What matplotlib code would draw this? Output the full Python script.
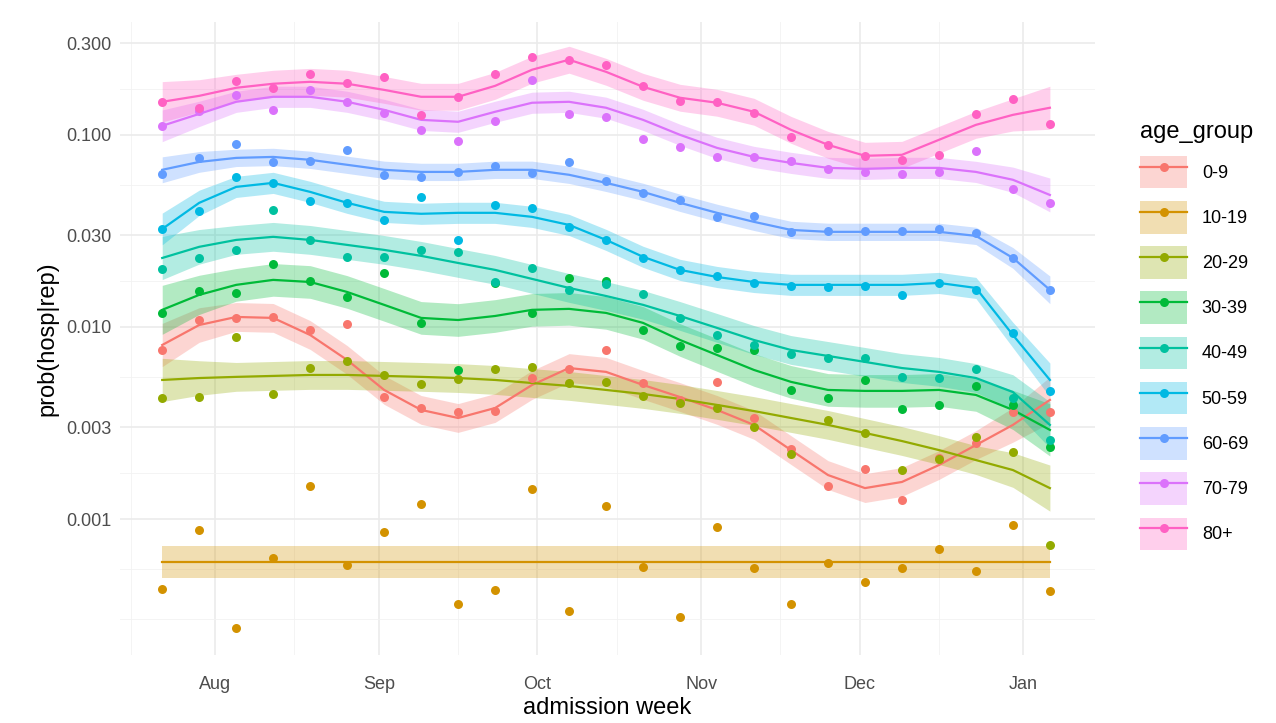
import numpy as np
import pandas as pd
from matplotlib import pyplot as plt
from matplotlib import dates as mdates
from matplotlib.patches import Patch
from matplotlib.lines import Line2D

plt.rcParams['font.family'] = ['Liberation Sans', 'DejaVu Sans']

# weekly admission dates
weeks = pd.date_range("2020-07-22", periods=25, freq="7D")

groups = ["0-9", "10-19", "20-29", "30-39", "40-49", "50-59", "60-69", "70-79", "80+"]
colors = ["#F8766D", "#D39200", "#93AA00", "#00BA38", "#00C19F",
          "#00B9E3", "#619CFF", "#DB72FB", "#FF61C3"]

# observed log10 probabilities
obs = {
    "80+": [-0.828, -0.859, -0.719, -0.755, -0.682, -0.729, -0.698, -0.896, -0.802, -0.682, -0.594, -0.609, -0.635,
            -0.745, -0.823, -0.828, -0.885, -1.010, -1.052, -1.109, -1.130, -1.104, -0.891, -0.813, -0.943],
    "70-79": [-0.953, -0.875, -0.792, -0.870, -0.766, -0.828, -0.885, -0.974, -1.031, -0.927, -0.714, -0.891, -0.906,
              -1.021, -1.063, -1.115, -1.115, -1.135, -1.177, -1.193, -1.203, -1.193, -1.083, -1.281, -1.354],
    "60-69": [-1.203, -1.120, -1.047, -1.141, -1.135, -1.078, -1.208, -1.219, -1.193, -1.161, -1.198, -1.141, -1.240,
              -1.302, -1.339, -1.427, -1.422, -1.505, -1.500, -1.500, -1.500, -1.490, -1.510, -1.641, -1.807],
    "50-59": [-1.490, -1.396, -1.219, -1.250, -1.344, -1.354, -1.443, -1.323, -1.547, -1.365, -1.380, -1.479, -1.547,
              -1.641, -1.703, -1.734, -1.771, -1.786, -1.792, -1.786, -1.833, -1.771, -1.807, -2.031, -2.333],
    "40-49": [-1.698, -1.641, -1.599, -1.391, -1.547, -1.635, -1.635, -1.599, -1.609, -1.766, -1.693, -1.807, -1.776,
              -1.828, -1.953, -2.042, -2.094, -2.141, -2.161, -2.161, -2.260, -2.266, -2.219, -2.370, -2.589],
    "30-39": [-1.927, -1.813, -1.823, -1.672, -1.760, -1.844, -1.719, -1.979, -2.224, -1.771, -1.927, -1.745, -1.760,
              -2.016, -2.099, -2.109, -2.120, -2.328, -2.370, -2.276, -2.427, -2.406, -2.307, -2.406, -2.625],
    "20-29": [-2.370, -2.365, -2.052, -2.349, -2.214, -2.177, -2.250, -2.297, -2.271, -2.219, -2.208, -2.292, -2.286,
              -2.359, -2.396, -2.422, -2.521, -2.661, -2.484, -2.552, -2.745, -2.688, -2.573, -2.651, -3.135],
    "0-9": [-2.120, -1.964, -1.953, -1.948, -2.016, -1.984, -2.365, -2.422, -2.443, -2.438, -2.266, -2.219, -2.120,
            -2.292, -2.380, -2.286, -2.474, -2.635, -2.828, -2.740, -2.901, -2.682, -2.604, -2.443, -2.443],
    "10-19": [-3.365, -3.057, -3.568, -3.203, -2.828, -3.240, -3.068, -2.922, -3.443, -3.370, -2.844, -3.479, -2.932,
              -3.250, -3.510, -3.042, -3.255, -3.443, -3.229, -3.328, -3.255, -3.156, -3.271, -3.031, -3.375],
}

# smoothed fits (log10)
fit = {
    "80+": [-0.828, -0.797, -0.755, -0.734, -0.724, -0.734, -0.766, -0.802, -0.802, -0.745, -0.661, -0.609, -0.672,
            -0.750, -0.807, -0.833, -0.880, -0.974, -1.052, -1.109, -1.104, -1.026, -0.948, -0.896, -0.859],
    "70-79": [-0.953, -0.891, -0.828, -0.802, -0.802, -0.828, -0.870, -0.922, -0.932, -0.880, -0.833, -0.828, -0.859,
              -0.922, -1.0, -1.068, -1.115, -1.146, -1.172, -1.177, -1.172, -1.172, -1.193, -1.234, -1.313],
    "60-69": [-1.182, -1.141, -1.120, -1.115, -1.130, -1.156, -1.182, -1.193, -1.193, -1.182, -1.182, -1.208, -1.250,
              -1.297, -1.354, -1.406, -1.453, -1.495, -1.505, -1.505, -1.505, -1.505, -1.526, -1.641, -1.807],
    "50-59": [-1.490, -1.354, -1.271, -1.250, -1.297, -1.354, -1.401, -1.411, -1.406, -1.406, -1.427, -1.469, -1.547,
              -1.635, -1.703, -1.740, -1.766, -1.781, -1.781, -1.781, -1.781, -1.771, -1.797, -2.042, -2.276],
    "40-49": [-1.641, -1.583, -1.547, -1.531, -1.547, -1.573, -1.599, -1.630, -1.667, -1.703, -1.750, -1.797, -1.839,
              -1.885, -1.943, -2.005, -2.068, -2.120, -2.151, -2.182, -2.214, -2.234, -2.266, -2.339, -2.510],
    "30-39": [-1.911, -1.833, -1.781, -1.755, -1.766, -1.818, -1.885, -1.953, -1.964, -1.943, -1.911, -1.906, -1.927,
              -1.979, -2.068, -2.146, -2.224, -2.286, -2.328, -2.333, -2.333, -2.328, -2.354, -2.432, -2.536],
    "20-29": [-2.276, -2.266, -2.260, -2.255, -2.250, -2.250, -2.255, -2.260, -2.266, -2.276, -2.292, -2.307, -2.328,
              -2.349, -2.375, -2.406, -2.438, -2.474, -2.510, -2.552, -2.594, -2.641, -2.693, -2.745, -2.839],
    "0-9": [-2.094, -1.990, -1.948, -1.953, -2.042, -2.172, -2.328, -2.432, -2.474, -2.422, -2.302, -2.214, -2.234,
            -2.302, -2.365, -2.432, -2.510, -2.641, -2.771, -2.839, -2.807, -2.719, -2.615, -2.510, -2.380],
    "10-19": [-3.224] * 25,
}

# ribbon half-width (log10)
halfwidth = {"80+": 0.07, "70-79": 0.055, "60-69": 0.045, "50-59": 0.055, "40-49": 0.075,
             "30-39": 0.085, "20-29": 0.075, "0-9": 0.075, "10-19": 0.082}
end_widen = np.array([1.5, 1.2] + [1.0] * 21 + [1.2, 1.6])

fig = plt.figure(figsize=(12.76, 7.23), dpi=100)
ax = fig.add_axes([0.094, 0.094, 0.764, 0.876])

xs = mdates.date2num(weeks)
for g, c in zip(groups, colors):
    f = np.array(fit[g])
    hw = halfwidth[g] * (end_widen if g != "10-19" else 1.0)
    ax.fill_between(xs, 10 ** (f - hw), 10 ** (f + hw), color=c, alpha=0.3, lw=0)
    ax.plot(xs, 10 ** f, color=c, lw=1.6)
    ax.scatter(xs, 10 ** np.array(obs[g]), color=c, s=42, zorder=3, lw=0)

ax.set_yscale("log")
ax.set_ylim(10 ** -3.708, 10 ** -0.411)
ax.set_xlim(mdates.date2num(pd.Timestamp("2020-07-14")), mdates.date2num(pd.Timestamp("2021-01-14 12:00")))

yt = [0.001, 0.003, 0.01, 0.03, 0.1, 0.3]
ax.set_yticks(yt)
ax.set_yticklabels(["0.001", "0.003", "0.010", "0.030", "0.100", "0.300"])
minor_y = [10 ** ((np.log10(a) + np.log10(b)) / 2) for a, b in zip(yt[:-1], yt[1:])]
minor_y += [10 ** ((np.log10(0.001) + np.log10(0.0003)) / 2), 0.0003]
ax.set_yticks(minor_y, minor=True)

months = pd.to_datetime(["2020-08-01", "2020-09-01", "2020-10-01", "2020-11-01", "2020-12-01", "2021-01-01"])
ax.set_xticks(mdates.date2num(months))
ax.set_xticklabels(["Aug", "Sep", "Oct", "Nov", "Dec", "Jan"])
mid = pd.to_datetime(["2020-07-16", "2020-08-16", "2020-09-16", "2020-10-16", "2020-11-16", "2020-12-16"])
ax.set_xticks(mdates.date2num(mid), minor=True)

ax.grid(which="major", color="#EBEBEB", lw=1.2)
ax.grid(which="minor", color="#F2F2F2", lw=0.6)
ax.set_axisbelow(True)
for s in ax.spines.values():
    s.set_visible(False)
ax.tick_params(which="both", length=0, labelsize=13, labelcolor="#4D4D4D")
ax.tick_params(axis="x", pad=15)
ax.tick_params(axis="y", pad=6)
ax.set_xlabel("admission week", fontsize=17, labelpad=3)
ax.set_ylabel("prob(hosp|rep)", fontsize=17, labelpad=6)

handles = [(Patch(facecolor=c, alpha=0.3, lw=0),
            Line2D([], [], color=c, lw=1.6, marker="o", markersize=6.5, markeredgewidth=0))
           for c in colors]
leg = fig.legend(handles, groups, title="age_group", loc="upper left", bbox_to_anchor=(0.881, 0.855),
                 frameon=False, fontsize=13, title_fontsize=17, handlelength=2.6, handleheight=2.4,
                 labelspacing=0.7, alignment="left")

fig.savefig("out.png")
